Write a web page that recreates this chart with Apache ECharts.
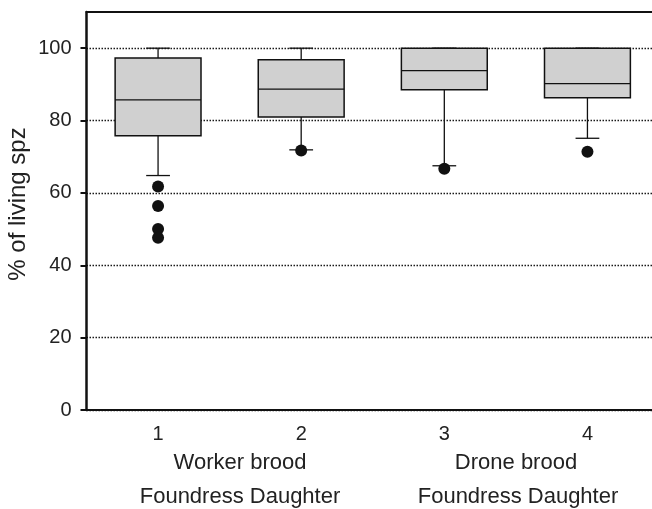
<!DOCTYPE html>
<html>
<head>
<meta charset="utf-8">
<script src="https://cdn.jsdelivr.net/npm/echarts@6/dist/echarts.min.js"></script>
<style>
  html, body { margin: 0; padding: 0; background: #fff; }
  #chart { width: 652px; height: 509px; }
</style>
</head>
<body>
<div id="chart"></div>
<script>
// Box summaries per group (percent of living spermatozoa)
const categories = ['1', '2', '3', '4'];
const whiskerLow = [64.8, 71.9, 67.5, 75.1];
const quartile1 = [75.8, 81.0, 88.5, 86.3];
const medians = [85.7, 88.7, 93.8, 90.2];
const quartile3 = [97.3, 96.8, 100, 100];
const whiskerHigh = [100, 100, 100, 100];

// Outlying observations: group index and value
const outlierGroup = [0, 0, 0, 0, 1, 2, 3];
const outlierValues = [61.8, 56.4, 50.0, 47.6, 71.7, 66.7, 71.4];

const yTicks = [0, 20, 40, 60, 80, 100];
const yAxisTitle = '% of living spz';
const broodLabels = ['Worker brood', 'Drone brood'];
const originLabel = 'Foundress Daughter';

const FONT = '"Liberation Sans", Arial, Helvetica, sans-serif';
const INK = '#111';

const boxData = categories.map((c, i) =>
  [i, whiskerLow[i], quartile1[i], medians[i], quartile3[i], whiskerHigh[i]]);
const outlierData = outlierValues.map((v, k) => [outlierGroup[k], v]);

function renderBox(params, api) {
  const i = api.value(0);
  const band = api.size([1, 0])[0];
  const half = band * 0.3;
  const cap = band * 0.083;
  const pLow = api.coord([i, api.value(1)]);
  const pQ1 = api.coord([i, api.value(2)]);
  const pMed = api.coord([i, api.value(3)]);
  const pQ3 = api.coord([i, api.value(4)]);
  const pHigh = api.coord([i, api.value(5)]);
  const x = pMed[0];
  const stroke = { stroke: INK, lineWidth: 1.3 };
  return {
    type: 'group',
    children: [
      { type: 'line', shape: { x1: x, y1: pHigh[1], x2: x, y2: pQ3[1] }, style: stroke },
      { type: 'line', shape: { x1: x, y1: pQ1[1], x2: x, y2: pLow[1] }, style: stroke },
      { type: 'line', shape: { x1: x - cap, y1: pHigh[1], x2: x + cap, y2: pHigh[1] }, style: stroke },
      { type: 'line', shape: { x1: x - cap, y1: pLow[1], x2: x + cap, y2: pLow[1] }, style: stroke },
      { type: 'rect', shape: { x: x - half, y: pQ3[1], width: half * 2, height: pQ1[1] - pQ3[1] },
        style: { fill: '#d0d0d0', stroke: INK, lineWidth: 1.5 } },
      { type: 'line', shape: { x1: x - half, y1: pMed[1], x2: x + half, y2: pMed[1] }, style: stroke }
    ]
  };
}

const chart = echarts.init(document.getElementById('chart'), null, { renderer: 'canvas' });

const groupFont = '22px ' + FONT;

chart.setOption({
  animation: false,
  backgroundColor: '#fff',
  textStyle: { fontFamily: FONT, color: '#222' },
  grid: { left: 86.5, top: 12, right: -7, bottom: 99, containLabel: false, outerBoundsMode: 'none' },
  xAxis: [
    {
      type: 'category',
      data: categories,
      boundaryGap: true,
      axisLine: { lineStyle: { color: INK, width: 2 } },
      axisTick: { alignWithLabel: true, length: 5, lineStyle: { color: INK, width: 1.5 } },
      axisLabel: { fontSize: 20, margin: 14, color: '#222', fontFamily: FONT },
      splitLine: { show: false }
    },
    {
      type: 'category',
      data: categories,
      position: 'top',
      axisLine: { lineStyle: { color: INK, width: 2 } },
      axisTick: { show: false },
      axisLabel: { show: false },
      splitLine: { show: false }
    }
  ],
  yAxis: {
    type: 'value',
    min: 0,
    max: 110,
    interval: 20,
    name: yAxisTitle,
    nameLocation: 'middle',
    nameRotate: 90,
    nameGap: 56,
    nameMoveOverlap: false,
    nameTextStyle: { fontSize: 24, color: '#222', fontFamily: FONT, padding: [0, 0, 0, 14] },
    axisLine: { show: true, lineStyle: { color: INK, width: 2.5 } },
    axisTick: { show: true, length: 6, customValues: yTicks, lineStyle: { color: INK, width: 2 } },
    axisLabel: { fontSize: 20, margin: 15, color: '#222', fontFamily: FONT, customValues: yTicks },
    splitLine: { show: true, lineStyle: { color: '#1a1a1a', width: 1.3, type: [1.5, 1.5] } }
  },
  graphic: [
    { type: 'text', x: 240, y: 463, style: { text: broodLabels[0], font: groupFont, fill: '#222', textAlign: 'center', textVerticalAlign: 'middle' } },
    { type: 'text', x: 240, y: 497, style: { text: originLabel, font: groupFont, fill: '#222', textAlign: 'center', textVerticalAlign: 'middle' } },
    { type: 'text', x: 516, y: 463, style: { text: broodLabels[1], font: groupFont, fill: '#222', textAlign: 'center', textVerticalAlign: 'middle' } },
    { type: 'text', x: 518, y: 497, style: { text: originLabel, font: groupFont, fill: '#222', textAlign: 'center', textVerticalAlign: 'middle' } }
  ],
  series: [
    {
      type: 'custom',
      name: 'boxes',
      renderItem: renderBox,
      data: boxData,
      encode: { x: 0, y: [1, 2, 3, 4, 5] },
      z: 2
    },
    {
      type: 'scatter',
      name: 'outliers',
      data: outlierData,
      symbol: 'circle',
      symbolSize: 12,
      itemStyle: { color: INK, opacity: 1 },
      z: 3
    }
  ]
});
</script>
</body>
</html>
